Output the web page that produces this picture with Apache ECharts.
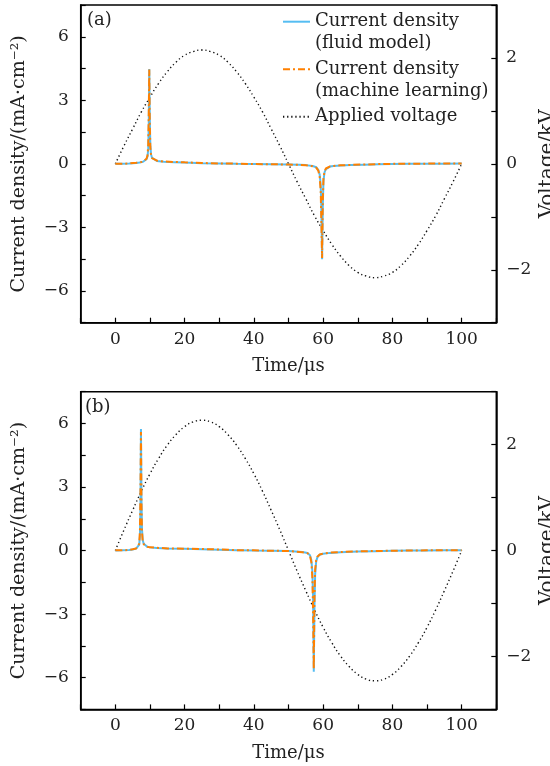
<!DOCTYPE html>
<html>
<head>
<meta charset="utf-8">
<script src="https://cdn.jsdelivr.net/npm/echarts@6/dist/echarts.min.js"></script>
<style>
  html, body { margin: 0; padding: 0; background: #fff; }
  #main { width: 550px; height: 766px; }
</style>
</head>
<body>
<div id="main"></div>
<script>
// applied voltage, read every 2.5 us
var voltTime = [0, 2.5, 5, 7.5, 10, 12.5, 15, 17.5, 20, 22.5, 25, 27.5, 30, 32.5, 35, 37.5, 40, 42.5, 45, 47.5, 50,
                52.5, 55, 57.5, 60, 62.5, 65, 67.5, 70, 72.5, 75, 77.5, 80, 82.5, 85, 87.5, 90, 92.5, 95, 97.5, 100];
var voltA = [0, 0.34, 0.66, 0.98, 1.26, 1.52, 1.74, 1.92, 2.05, 2.12, 2.15, 2.12, 2.05, 1.92, 1.74, 1.52, 1.26, 0.98, 0.66, 0.34, 0,
             -0.34, -0.66, -0.98, -1.26, -1.52, -1.74, -1.92, -2.05, -2.12, -2.15, -2.12, -2.05, -1.92, -1.74, -1.52, -1.26, -0.98, -0.66, -0.34, 0];
var voltB = [0, 0.39, 0.76, 1.12, 1.45, 1.74, 1.99, 2.19, 2.34, 2.43, 2.46, 2.43, 2.34, 2.19, 1.99, 1.74, 1.45, 1.12, 0.76, 0.39, 0,
             -0.39, -0.76, -1.12, -1.45, -1.74, -1.99, -2.19, -2.34, -2.43, -2.46, -2.43, -2.34, -2.19, -1.99, -1.74, -1.45, -1.12, -0.76, -0.39, 0];

// panel (a) current density
var timeA = [0, 2, 4, 6, 7, 8, 8.5, 9, 9.3, 9.5, 9.65, 9.8, 9.95, 10.1, 10.3, 10.6, 11, 12, 14, 17, 20, 25, 30, 35, 40, 45, 50,
             53, 55, 57, 58, 58.6, 59, 59.3, 59.5, 59.7, 59.9, 60.1, 60.4, 60.8, 61.2, 62, 63, 65, 68, 72, 76, 80, 85, 90, 95, 100];
var fluidA = [0, 0.01, 0.02, 0.04, 0.06, 0.1, 0.14, 0.22, 0.35, 0.7, 1.8, 4.48, 2.2, 0.9, 0.45, 0.28, 0.2, 0.14, 0.1, 0.08, 0.06, 0.03, 0.02, 0, -0.01, -0.02, -0.03,
              -0.04, -0.06, -0.1, -0.16, -0.28, -0.5, -1.0, -2.2, -4.5, -2.0, -0.8, -0.4, -0.25, -0.18, -0.13, -0.1, -0.08, -0.06, -0.04, -0.02, -0.01, 0, 0, 0.01, 0.02];
var mlA = [0.01, 0, 0.02, 0.05, 0.07, 0.1, 0.15, 0.24, 0.4, 0.9, 2.4, 4.45, 1.9, 0.8, 0.42, 0.27, 0.2, 0.15, 0.11, 0.09, 0.07, 0.04, 0.02, 0.01, -0.01, -0.02, -0.03,
           -0.05, -0.07, -0.11, -0.18, -0.32, -0.6, -1.3, -2.8, -4.45, -1.7, -0.7, -0.36, -0.22, -0.16, -0.12, -0.1, -0.07, -0.05, -0.03, -0.01, 0, 0.01, 0.01, 0.02, 0.02];

// panel (b) current density
var timeB = [0, 2, 4, 5, 6, 6.5, 6.9, 7.1, 7.25, 7.4, 7.55, 7.7, 7.9, 8.2, 8.6, 9.2, 10, 12, 15, 20, 25, 30, 35, 40, 45, 50,
             52, 54, 55.5, 56.2, 56.6, 56.9, 57.1, 57.3, 57.5, 57.7, 58, 58.4, 59, 60, 62, 65, 70, 75, 80, 85, 90, 95, 100];
var fluidB = [0, 0.01, 0.03, 0.05, 0.09, 0.14, 0.28, 0.7, 2.0, 5.74, 2.4, 1.0, 0.5, 0.32, 0.24, 0.18, 0.15, 0.12, 0.1, 0.08, 0.06, 0.04, 0.02, 0, -0.01, -0.02,
              -0.04, -0.07, -0.12, -0.22, -0.45, -1.0, -2.3, -5.72, -2.6, -1.1, -0.5, -0.3, -0.2, -0.15, -0.11, -0.08, -0.05, -0.03, -0.01, 0, 0, 0.01, 0.02];
var mlB = [0.01, 0.01, 0.03, 0.06, 0.1, 0.16, 0.32, 0.9, 2.6, 5.6, 2.1, 0.9, 0.45, 0.3, 0.23, 0.18, 0.15, 0.13, 0.1, 0.09, 0.07, 0.05, 0.02, 0.01, -0.01, -0.02,
           -0.05, -0.08, -0.13, -0.25, -0.55, -1.3, -2.9, -5.6, -2.2, -0.9, -0.45, -0.28, -0.19, -0.14, -0.1, -0.07, -0.04, -0.02, -0.01, 0, 0.01, 0.01, 0.02];

var names = ['Current density\n(fluid model)', 'Current density\n(machine learning)', 'Applied voltage'];

var FONT = 'DejaVu Serif';
var blue = '#55bdf2';
var orange = '#ff8000';

function pairs(xs, ys) {
    var out = [];
    for (var i = 0; i < xs.length; i++) out.push([xs[i], ys[i]]);
    return out;
}
function minus(v) {
    return v < 0 ? '\u2212' + Math.abs(v) : String(v);
}

var axisLine = { show: true, onZero: false, lineStyle: { color: '#000', width: 1.5 } };
var axisTick = { show: true, inside: true, length: 5, lineStyle: { color: '#000', width: 1.2 } };
var labelStyle = { color: '#222', fontFamily: FONT, fontSize: 17 };
var nameStyle = { color: '#222', fontFamily: FONT, fontSize: 18 };

function xAxisFor(gi) {
    return {
        type: 'value', gridIndex: gi, min: -10, max: 110, interval: 10,
        name: 'Time/\u03bcs', nameLocation: 'middle', nameGap: 35, nameTextStyle: nameStyle,
        axisLine: axisLine, axisTick: axisTick, splitLine: { show: false },
        axisLabel: Object.assign({ margin: 8, formatter: function (v) {
            return (v % 20 === 0 && v >= 0 && v <= 100) ? String(v) : '';
        } }, labelStyle)
    };
}
function leftAxisFor(gi) {
    return {
        type: 'value', gridIndex: gi, min: -7.5, max: 7.5, interval: 1.5,
        name: 'Current density/(mA\u00b7cm\u207b\u00b2)', nameLocation: 'middle', nameGap: 52,
        nameTextStyle: { color: '#222', fontFamily: FONT, fontSize: 19 },
        axisLine: axisLine, axisTick: axisTick, splitLine: { show: false },
        axisLabel: Object.assign({ margin: 12, formatter: function (v) {
            return Math.abs(v % 3) < 1e-9 ? minus(v) : '';
        } }, labelStyle)
    };
}
function rightAxisFor(gi) {
    return {
        type: 'value', gridIndex: gi, position: 'right', min: -3, max: 3, interval: 1,
        name: 'Voltage/kV', nameLocation: 'middle', nameGap: 41, nameMoveOverlap: false,
        nameTextStyle: { color: '#222', fontFamily: FONT, fontSize: 20 },
        axisLine: axisLine, axisTick: axisTick, splitLine: { show: false },
        axisLabel: Object.assign({ margin: 10, formatter: function (v) {
            return (v % 2 === 0 && Math.abs(v) < 3) ? minus(v) : '';
        } }, labelStyle)
    };
}

function seriesFor(gi, t, fluid, ml, volt) {
    return [
        { name: names[2], type: 'line', xAxisIndex: gi, yAxisIndex: gi * 2 + 1, symbol: 'none', smooth: true,
          data: pairs(voltTime, volt), lineStyle: { color: '#111', width: 1.4, type: [1.3, 2.8] }, itemStyle: { color: '#111' } },
        { name: names[0], type: 'line', xAxisIndex: gi, yAxisIndex: gi * 2, symbol: 'none',
          data: pairs(t, fluid), lineStyle: { color: blue, width: 2 }, itemStyle: { color: blue } },
        { name: names[1], type: 'line', xAxisIndex: gi, yAxisIndex: gi * 2, symbol: 'none',
          data: pairs(t, ml), lineStyle: { color: orange, width: 2, type: [7, 3, 2, 3] }, itemStyle: { color: orange } }
    ];
}

var L = 21.7;
var option = {
    animation: false,
    backgroundColor: '#fff',
    title: [
        { text: '(a)', left: 87, top: 11, padding: 0, textStyle: { fontFamily: FONT, fontSize: 18, fontWeight: 'normal', color: '#222' } },
        { text: '(b)', left: 85, top: 398, padding: 0, textStyle: { fontFamily: FONT, fontSize: 18, fontWeight: 'normal', color: '#222' } }
    ],
    grid: [
        { left: 80.7, top: 5, width: 415.6, height: 317.7, show: true, borderColor: '#000', borderWidth: 1.5, outerBoundsMode: 'none' },
        { left: 80.7, top: 391.7, width: 415.6, height: 317.7, show: true, borderColor: '#000', borderWidth: 1.5, outerBoundsMode: 'none' }
    ],
    legend: {
        orient: 'vertical', left: 282, top: 21.7 - 1.5 * L, padding: 0,
        itemWidth: 27, itemHeight: 2, itemGap: 47.5 - 3 * L,
        itemStyle: { opacity: 0 },
        textStyle: { fontFamily: FONT, fontSize: 18, color: '#222', lineHeight: L },
        formatter: function (name) {
            // blank first line so the icon sits level with the first text line
            return name === names[2] ? '\u00a0\n' + name + '\n\u00a0' : '\u00a0\n' + name;
        },
        data: names
    },
    xAxis: [xAxisFor(0), xAxisFor(1)],
    yAxis: [leftAxisFor(0), rightAxisFor(0), leftAxisFor(1), rightAxisFor(1)],
    series: seriesFor(0, timeA, fluidA, mlA, voltA).concat(seriesFor(1, timeB, fluidB, mlB, voltB))
};

var chart = echarts.init(document.getElementById('main'));
chart.setOption(option);
</script>
</body>
</html>
